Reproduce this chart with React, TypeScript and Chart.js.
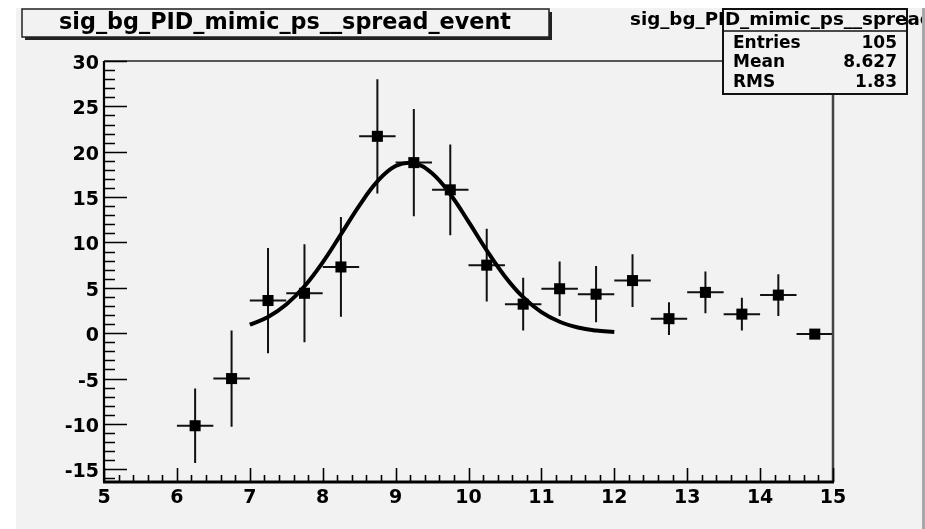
import React, { useEffect, useRef } from 'react';
import { Chart, registerables } from 'chart.js';

Chart.register(...registerables);

// ---- data ----
const binCenters = [6.25, 6.75, 7.25, 7.75, 8.25, 8.75, 9.25, 9.75, 10.25, 10.75, 11.25, 11.75, 12.25, 12.75, 13.25, 13.75, 14.25, 14.75];
const binCounts = [-10.2, -5.0, 3.6, 4.4, 7.3, 21.7, 18.8, 15.8, 7.5, 3.2, 4.9, 4.3, 5.8, 1.6, 4.5, 2.1, 4.2, -0.1];
const binErrors = [4.1, 5.3, 5.8, 5.4, 5.5, 6.3, 5.9, 5.0, 4.0, 2.9, 3.0, 3.1, 2.9, 1.8, 2.3, 1.8, 2.3, 0];
const binHalfWidth = 0.25;

const fitX = [7, 7.25, 7.5, 7.75, 8, 8.25, 8.5, 8.75, 9, 9.25, 9.5, 9.75, 10, 10.25, 10.5, 10.75, 11, 11.25, 11.5, 11.75, 12];
const fitY = [0.94, 1.79, 3.16, 5.17, 7.81, 10.89, 14.04, 16.73, 18.42, 18.74, 17.62, 15.32, 12.3, 9.13, 6.26, 3.97, 2.32, 1.26, 0.63, 0.29, 0.12];

const xTicks = [5, 6, 7, 8, 9, 10, 11, 12, 13, 14, 15];
const yTicks = [-15, -10, -5, 0, 5, 10, 15, 20, 25, 30];
const xRange = [5, 15];
const yRange = [-16.4, 30];

const histTitle = 'sig_bg_PID_mimic_ps__spread_event';
const statsLabels = ['Entries', 'Mean', 'RMS'];
const statsValues = ['105', '8.627', '1.83'];

const FONT = '"DejaVu Sans", "Liberation Sans", sans-serif';

const rootPlugin = {
  id: 'rootStyle',
  beforeDraw(chart: any) {
    const ctx = chart.ctx;
    ctx.save();
    ctx.fillStyle = '#ffffff';
    ctx.fillRect(0, 0, chart.width, chart.height);
    ctx.fillStyle = '#f2f2f2';
    ctx.fillRect(16, 8, 906, chart.height - 8);
    ctx.fillStyle = '#a8a8a8';
    ctx.fillRect(922, 8, 3, chart.height - 8);
    ctx.restore();
  },
  beforeDatasetsDraw(chart: any) {
    const ctx = chart.ctx;
    const xs = chart.scales.x;
    const ys = chart.scales.y;
    ctx.save();
    ctx.strokeStyle = '#111';
    ctx.lineWidth = 2;
    binCenters.forEach((c, i) => {
      const y = ys.getPixelForValue(binCounts[i]);
      ctx.beginPath();
      ctx.moveTo(xs.getPixelForValue(c - binHalfWidth), y);
      ctx.lineTo(xs.getPixelForValue(c + binHalfWidth), y);
      if (binErrors[i] > 0) {
        const x = xs.getPixelForValue(c);
        ctx.moveTo(x, ys.getPixelForValue(binCounts[i] + binErrors[i]));
        ctx.lineTo(x, ys.getPixelForValue(binCounts[i] - binErrors[i]));
      }
      ctx.stroke();
    });
    ctx.restore();
  },
  afterDraw(chart: any) {
    const ctx = chart.ctx;
    const a = chart.chartArea;
    const xs = chart.scales.x;
    const ys = chart.scales.y;
    ctx.save();
    // frame
    ctx.strokeStyle = '#222';
    ctx.lineWidth = 1.5;
    ctx.beginPath();
    ctx.moveTo(a.left, a.top);
    ctx.lineTo(a.right, a.top);
    ctx.stroke();
    ctx.strokeStyle = '#444';
    ctx.lineWidth = 2.5;
    ctx.beginPath();
    ctx.moveTo(a.right, a.top);
    ctx.lineTo(a.right, a.bottom);
    ctx.stroke();
    // ticks
    ctx.strokeStyle = '#000';
    ctx.lineWidth = 1.6;
    ctx.beginPath();
    for (let v = Math.ceil(yRange[0]); v <= yRange[1]; v += 1) {
      const y = Math.round(ys.getPixelForValue(v)) + 0.5;
      const len = yTicks.includes(v) ? 23 : 11;
      ctx.moveTo(a.left, y);
      ctx.lineTo(a.left + len, y);
    }
    for (let k = 0; k <= 50; k++) {
      const v = xRange[0] + k * 0.2;
      const x = Math.round(xs.getPixelForValue(v)) + 0.5;
      const len = k % 5 === 0 ? 14 : 7;
      ctx.moveTo(x, a.bottom);
      ctx.lineTo(x, a.bottom - len);
    }
    ctx.stroke();
    // axes lines
    ctx.lineWidth = 2.2;
    ctx.beginPath();
    ctx.moveTo(a.left, a.top);
    ctx.lineTo(a.left, a.bottom);
    ctx.stroke();
    ctx.lineWidth = 3;
    ctx.beginPath();
    ctx.moveTo(a.left - 1, a.bottom);
    ctx.lineTo(a.right + 1, a.bottom);
    ctx.stroke();

    // title box
    ctx.fillStyle = '#222';
    ctx.fillRect(25, 12, 527, 28);
    ctx.fillStyle = '#f2f2f2';
    ctx.fillRect(22, 9, 527, 28);
    ctx.strokeStyle = '#222';
    ctx.lineWidth = 1.5;
    ctx.strokeRect(22, 9, 527, 28);
    ctx.fillStyle = '#000';
    ctx.font = `bold 22.3px ${FONT}`;
    ctx.textAlign = 'center';
    ctx.textBaseline = 'middle';
    ctx.fillText(histTitle, 285, 23);

    // stats box
    ctx.fillStyle = '#f2f2f2';
    ctx.fillRect(723, 9, 184, 85);
    ctx.strokeStyle = '#111';
    ctx.lineWidth = 2;
    ctx.strokeRect(723, 9, 184, 85);
    ctx.lineWidth = 1.5;
    ctx.beginPath();
    ctx.moveTo(723, 31);
    ctx.lineTo(907, 31);
    ctx.stroke();
    ctx.fillStyle = '#000';
    ctx.font = `bold 18.3px ${FONT}`;
    ctx.textAlign = 'left';
    ctx.fillText(histTitle, 630, 20);
    ctx.font = `bold 17px ${FONT}`;
    const rowsY = [43.5, 63, 82.5];
    statsLabels.forEach((l, i) => {
      ctx.textAlign = 'left';
      ctx.fillText(l, 733, rowsY[i]);
      ctx.textAlign = 'right';
      ctx.fillText(statsValues[i], 897, rowsY[i]);
    });
    // right canvas border drawn over overflowing title text
    ctx.fillStyle = '#a8a8a8';
    ctx.fillRect(922, 8, 3, chart.height - 8);
    ctx.restore();
  },
};

export default function App() {
  const ref = useRef<HTMLCanvasElement | null>(null);
  useEffect(() => {
    if (!ref.current) return;
    const chart = new Chart(ref.current, {
      type: 'scatter',
      data: {
        datasets: [
          {
            type: 'scatter',
            data: binCenters.map((x, i) => ({ x, y: binCounts[i] })),
            pointStyle: 'rect',
            pointRadius: 7.8,
            pointHoverRadius: 7.8,
            backgroundColor: '#000',
            borderColor: '#000',
            borderWidth: 0,
          },
          {
            type: 'line',
            data: fitX.map((x, i) => ({ x, y: fitY[i] })),
            borderColor: '#000',
            borderWidth: 4,
            pointRadius: 0,
            tension: 0.4,
            fill: false,
          } as any,
        ],
      },
      options: {
        responsive: false,
        animation: false,
        devicePixelRatio: 1,
        layout: { padding: { top: 61, right: 92, left: 0, bottom: 0 } },
        plugins: { legend: { display: false }, tooltip: { enabled: false }, title: { display: false } },
        scales: {
          x: {
            type: 'linear',
            min: xRange[0],
            max: xRange[1],
            grid: { display: false, drawTicks: false },
            border: { display: false },
            afterBuildTicks: (s: any) => { s.ticks = xTicks.map((v) => ({ value: v })); },
            afterFit: (s: any) => { s.height = 47; },
            ticks: {
              padding: 5,
              color: '#000',
              maxRotation: 0,
              autoSkip: false,
              font: { family: FONT, weight: 'bold', size: 19 },
              callback: (v: any) => String(v),
            },
          },
          y: {
            type: 'linear',
            min: yRange[0],
            max: yRange[1],
            grid: { display: false, drawTicks: false },
            border: { display: false },
            afterBuildTicks: (s: any) => { s.ticks = yTicks.map((v) => ({ value: v })); },
            afterFit: (s: any) => { s.width = 104; },
            ticks: {
              padding: 5,
              labelOffset: 3,
              color: '#000',
              autoSkip: false,
              font: { family: FONT, weight: 'bold', size: 19 },
              callback: (v: any) => String(v),
            },
          },
        },
      },
      plugins: [rootPlugin],
    });
    return () => chart.destroy();
  }, []);
  return (
    <canvas
      ref={ref}
      width={925}
      height={529}
      style={{ position: 'absolute', left: 0, top: 0, width: 925, height: 529 }}
    />
  );
}
